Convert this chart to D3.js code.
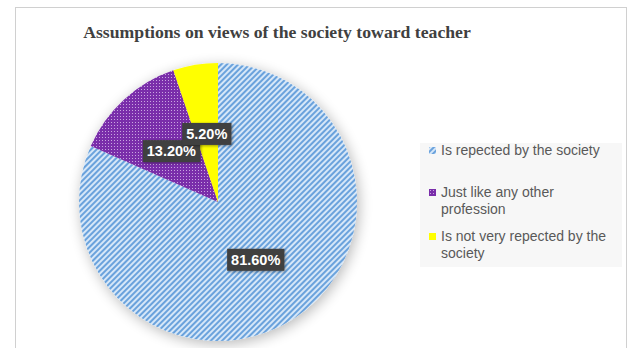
<!DOCTYPE html>
<html>
<head>
<meta charset="utf-8">
<script src="https://cdn.jsdelivr.net/npm/d3@7"></script>
<style>
  body { margin: 0; background: #fff; }
  svg { display: block; }
</style>
</head>
<body>
<div id="chart"></div>
<script>
// data
var categories = ["Is repected by the society", "Just like any other profession", "Is not very repected by the society"];
var shares = [81.6, 13.2, 5.2];
var legendLines = [["Is repected by the society"], ["Just like any other", "profession"], ["Is not very repected by the", "society"]];
var title = "Assumptions on views of the society toward teacher";

var width = 631, height = 348,
    cx = 218, cy = 202, radius = 139, labelRadius = 69;

var svg = d3.select("#chart").append("svg")
    .attr("width", width)
    .attr("height", height);

var defs = svg.append("defs");

// diagonal stripes for the big slice
var stripe = defs.append("pattern")
    .attr("id", "stripe")
    .attr("patternUnits", "userSpaceOnUse")
    .attr("width", 4).attr("height", 4)
    .attr("patternTransform", "rotate(45)");
stripe.append("rect").attr("width", 4).attr("height", 4).attr("fill", "#d6e7f8");
stripe.append("rect").attr("width", 2).attr("height", 4).attr("fill", "#6aa2dc");

// dotted purple
var dots = defs.append("pattern")
    .attr("id", "dots")
    .attr("patternUnits", "userSpaceOnUse")
    .attr("width", 3).attr("height", 3);
dots.append("rect").attr("width", 3).attr("height", 3).attr("fill", "#7a2eaa");
dots.append("rect").attr("x", 1).attr("y", 1).attr("width", 1).attr("height", 1).attr("fill", "#c9a6e0");

var fills = ["url(#stripe)", "url(#dots)", "#ffff00"];

var shadow = defs.append("filter").attr("id", "shadow")
    .attr("x", "-20%").attr("y", "-20%").attr("width", "140%").attr("height", "140%");
shadow.append("feGaussianBlur").attr("in", "SourceAlpha").attr("stdDeviation", 7).attr("result", "b");
shadow.append("feOffset").attr("in", "b").attr("dx", 2).attr("dy", 3).attr("result", "o");
shadow.append("feComponentTransfer").attr("in", "o").attr("result", "s")
    .append("feFuncA").attr("type", "linear").attr("slope", 0.28);
var merge = shadow.append("feMerge");
merge.append("feMergeNode").attr("in", "s");
merge.append("feMergeNode").attr("in", "SourceGraphic");

var boxShadow = defs.append("filter").attr("id", "boxshadow")
    .attr("x", "-20%").attr("y", "-30%").attr("width", "140%").attr("height", "160%");
boxShadow.append("feGaussianBlur").attr("in", "SourceAlpha").attr("stdDeviation", 1.5).attr("result", "b");
boxShadow.append("feOffset").attr("in", "b").attr("dx", 1).attr("dy", 1).attr("result", "o");
boxShadow.append("feComponentTransfer").attr("in", "o").attr("result", "s")
    .append("feFuncA").attr("type", "linear").attr("slope", 0.4);
var m2 = boxShadow.append("feMerge");
m2.append("feMergeNode").attr("in", "s");
m2.append("feMergeNode").attr("in", "SourceGraphic");

// chart frame
svg.append("rect")
    .attr("x", 15.5).attr("y", 7.5)
    .attr("width", 611).attr("height", 360)
    .attr("fill", "#fff")
    .attr("stroke", "#d0d0d0");

svg.append("text")
    .attr("x", 277).attr("y", 38)
    .attr("text-anchor", "middle")
    .attr("font-family", "'Liberation Serif', 'Times New Roman', serif")
    .attr("font-weight", "bold")
    .attr("font-size", 17.7)
    .attr("fill", "#404040")
    .text(title);

var pie = d3.pie().sort(null).value(d => d);
var arcs = pie(shares);
var arc = d3.arc().innerRadius(0).outerRadius(radius);
var labelArc = d3.arc().innerRadius(labelRadius).outerRadius(labelRadius);

var g = svg.append("g").attr("transform", "translate(" + cx + "," + cy + ")");

g.append("g").attr("filter", "url(#shadow)")
  .selectAll("path")
  .data(arcs)
  .join("path")
    .attr("d", arc)
    .attr("fill", (d, i) => fills[i]);

var fmt = d3.format(".2f");
var labels = g.selectAll("g.label")
  .data(arcs)
  .join("g")
    .attr("class", "label")
    .attr("transform", d => "translate(" + labelArc.centroid(d) + ")");

labels.append("rect")
    .attr("fill", "#404040")
    .attr("filter", "url(#boxshadow)");

labels.append("text")
    .attr("text-anchor", "middle")
    .attr("dy", "0.36em")
    .attr("font-family", "'Liberation Sans', Arial, sans-serif")
    .attr("font-weight", "bold")
    .attr("font-size", 14.5)
    .attr("fill", "#fff")
    .text(d => fmt(d.data) + "%");

labels.each(function() {
    var t = d3.select(this).select("text").node().getBBox();
    d3.select(this).select("rect")
        .attr("x", t.x - 4).attr("y", -11)
        .attr("width", t.width + 8).attr("height", 22);
});

// legend
var legend = svg.append("g");
legend.append("rect")
    .attr("x", 420).attr("y", 143)
    .attr("width", 202).attr("height", 124)
    .attr("fill", "#f7f7f7");

var legendY = [150, 192, 236];
var items = legend.selectAll("g.item")
  .data(categories)
  .join("g")
    .attr("class", "item")
    .attr("transform", (d, i) => "translate(441," + legendY[i] + ")");

items.append("rect")
    .attr("x", -12).attr("y", -3)
    .attr("width", 7).attr("height", 7)
    .attr("fill", (d, i) => fills[i]);

items.append("text")
    .attr("font-family", "'Liberation Sans', Arial, sans-serif")
    .attr("font-size", 14)
    .attr("fill", "#595959")
    .selectAll("tspan")
    .data((d, i) => legendLines[i])
    .join("tspan")
      .attr("x", 0)
      .attr("y", (d, j) => 5 + j * 16.5)
      .text(d => d);
</script>
</body>
</html>
